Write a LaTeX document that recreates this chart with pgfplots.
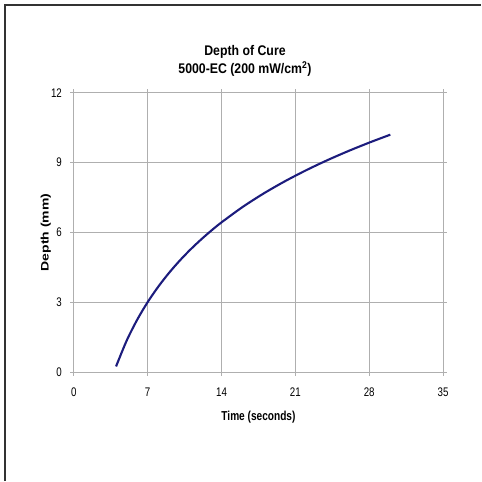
\documentclass[border=0pt]{standalone}
\usepackage{graphicx}
\usepackage{pgfplots}
\pgfplotsset{compat=1.18}
\usepackage{fontspec}
\setmainfont{Liberation Sans}
\newfontfamily\titlefont[FakeStretch=0.88]{Liberation Sans}
\newfontfamily\condfont[FakeStretch=0.78]{Liberation Sans}
\definecolor{curve}{RGB}{28,28,125}
\definecolor{gridc}{RGB}{175,175,175}
\begin{document}
\begin{tikzpicture}
\begin{axis}[
  at={(0pt,0pt)}, anchor=south west,
  scale only axis, width=370pt, height=280pt,
  xmin=0, xmax=35, ymin=0, ymax=12,
  xtick={0,7,14,21,28,35}, ytick={0,3,6,9,12},
  grid=major,
  major grid style={gridc, line width=0.8pt},
  axis line style={gridc, line width=0.9pt},
  tick style={gridc, line width=0.8pt},
  tick align=outside, major tick length=3.5pt,
  /pgf/number format/assume math mode=true,
  tick label style={font=\condfont\fontsize{12.5}{14}\selectfont, black},
  xticklabel style={anchor=center, yshift=-16.5pt},
  yticklabel style={anchor=east, xshift=-5pt},
  xlabel={Time (seconds)},
  ylabel={\scalebox{1}[0.78]{\bfseries\fontsize{14}{16}\selectfont Depth (mm)}},
  xlabel style={font=\condfont\bfseries\fontsize{13}{15}\selectfont, at={(axis description cs:0.5,-0.162)}, anchor=center},
  ylabel style={at={(axis description cs:-0.0757,0.5)}, anchor=center},
]
\addplot[curve, line width=2.1pt, smooth] coordinates {
(4,0.248) (5,1.350) (6,2.251) (7,3.013) (8,3.672) (9,4.254) (10,4.775)
(11,5.246) (12,5.675) (13,6.071) (14,6.437) (16,7.097) (18,7.679)
(20,8.199) (22,8.670) (24,9.100) (26,9.495) (28,9.861) (30,10.202)
};
\end{axis}
\node[anchor=base, inner sep=0pt, font=\titlefont\bfseries\fontsize{14}{16}\selectfont] at (171.5pt,317pt) {Depth of Cure};
\node[anchor=base, inner sep=0pt, font=\titlefont\bfseries\fontsize{14}{16}\selectfont] at (171.5pt,299pt) {5000-EC (200 mW/cm\textsuperscript{2})};
\draw[line width=2pt, black!80] (-69pt,-109pt) -- (-69pt,368pt) -- (408pt,368pt);
\useasboundingbox (-74pt,-109pt) rectangle (408pt,373pt);
\end{tikzpicture}
\end{document}
